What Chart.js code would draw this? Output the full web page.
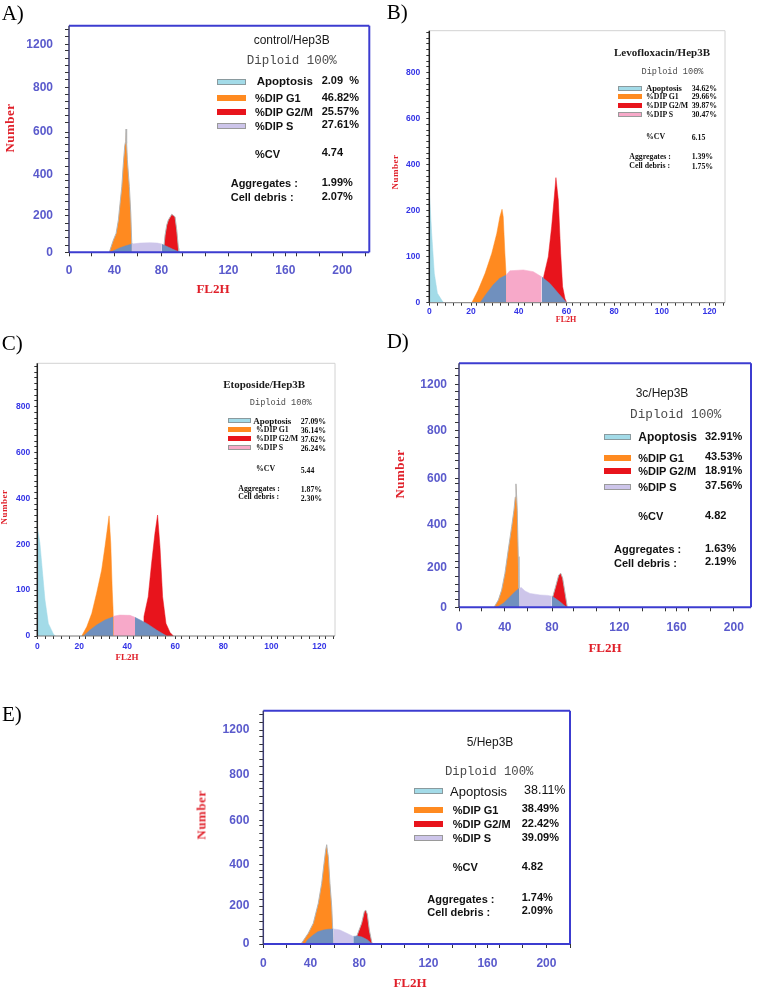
<!DOCTYPE html>
<html>
<head>
<meta charset="utf-8">
<script src="https://cdn.jsdelivr.net/npm/chart.js@4.4.1/dist/chart.umd.min.js"></script>
<style>
  body { margin: 0; background: #fff; }
  #page { position: relative; width: 769px; height: 992px; overflow: hidden; background: #fff; }
  canvas { position: absolute; }
  .t { position: absolute; white-space: pre; }
  .sw { position: absolute; box-sizing: border-box; }
</style>
</head>
<body>
<div id="page"></div>
<script>
// ---- axis ticks (positions in plotted units, labels as printed on the figure) ----
const WIDE_X_TICKS = [8, 40, 73, 120, 160, 200];
const WIDE_X_LABELS = ["0", "40", "80", "120", "160", "200"];
const WIDE_Y_TICKS = [0, 179, 377, 585, 800, 1012];
const WIDE_Y_LABELS = ["0", "200", "400", "600", "800", "1200"];
const NARROW_X_TICKS = [2.5, 20, 40, 60, 80, 100, 120];
const NARROW_X_LABELS = ["0", "20", "40", "60", "80", "100", "120"];
const NARROW_Y_TICKS = [0, 160, 320, 480, 640, 800];
const NARROW_Y_LABELS = ["0", "100", "200", "400", "600", "800"];

// ---- legend text ----
const PHASES = ["Apoptosis", "%DIP G1", "%DIP G2/M", "%DIP S"];
const EXTRA_NAMES = ["%CV", "Aggregates :", "Cell debris :"];

const A_TITLE = "control/Hep3B";
const A_PCT = ["2.09  %", "46.82%", "25.57%", "27.61%"];
const A_EXTRA = ["4.74", "1.99%", "2.07%"];
const B_TITLE = "Levofloxacin/Hep3B";
const B_PCT = ["34.62%", "29.66%", "39.87%", "30.47%"];
const B_EXTRA = ["6.15", "1.39%", "1.75%"];
const C_TITLE = "Etoposide/Hep3B";
const C_PCT = ["27.09%", "36.14%", "37.62%", "26.24%"];
const C_EXTRA = ["5.44", "1.87%", "2.30%"];
const D_TITLE = "3c/Hep3B";
const D_PCT = ["32.91%", "43.53%", "18.91%", "37.56%"];
const D_EXTRA = ["4.82", "1.63%", "2.19%"];
const E_TITLE = "5/Hep3B";
const E_PCT = ["38.11%", "38.49%", "22.42%", "39.09%"];
const E_EXTRA = ["4.82", "1.74%", "2.09%"];

// ---- histogram outlines [FL2H, count] ----
const A_G1 = [[36.3,0],[39.2,60],[41.1,92],[42.7,157],[43.9,239],[45.1,319],[46.2,433],[47.2,520],[47.8,540],[48.1,600],[48.5,530],[49.0,450],[50.4,320],[51.4,190],[52.1,45],[52.1,0]];
const A_S_LEFT = [[36.8,0],[40,10],[43.9,22],[48,32],[52.1,40]];
const A_S_MID = [[52.1,40],[58,45],[65,47],[70,45],[73.2,40]];
const A_S_RIGHT = [[73.2,40],[75,34],[78,25],[81,15],[84,6],[86.1,0]];
const A_G2 = [[74.3,0],[75.5,84],[76.7,133],[77.8,157],[80.2,185],[82.5,173],[83.7,109],[84.9,19],[85.1,0]];

const B_APOP = [[2.5,392],[3.5,241],[4.6,102],[5.9,33],[7.7,9],[8.5,0]];
const B_G1 = [[20.3,0],[23.0,44],[25.9,102],[28.7,172],[30.8,241],[32.1,299],[33.0,325],[33.5,299],[34.2,172],[34.7,96],[34.7,0]];
const B_S_LEFT = [[23.8,0],[26.6,33],[29.3,62],[32.1,85],[34.7,96]];
const B_S_MID = [[34.7,96],[36.3,111],[41.9,114],[46.1,108],[49.6,90]];
const B_S_RIGHT = [[49.6,90],[53.1,67],[56.6,33],[60.1,0]];
const B_G2 = [[50.3,0],[50.3,85],[52.4,160],[53.8,264],[54.8,357],[55.6,435],[56.6,357],[57.6,172],[58.4,56],[59.4,15],[60.1,0]];

const C_APOP = [[2.5,381],[3.6,323],[4.7,219],[5.7,126],[7.1,44],[9.2,7],[10.0,0]];
const C_G1 = [[21.0,0],[23.1,32],[25.2,79],[27.2,149],[29.3,230],[30.7,312],[32.4,419],[33.1,323],[33.7,161],[34.2,67],[34.2,0]];
const C_S_LEFT = [[21.7,0],[24.5,21],[27.2,38],[30.7,56],[34.2,67]];
const C_S_MID = [[34.2,69],[36.9,73],[41.1,72],[43.2,65]];
const C_S_RIGHT = [[43.2,65],[48.1,44],[52.2,21],[56.4,0]];
const C_G2 = [[46.9,0],[46.9,67],[48.7,137],[50.1,254],[51.5,358],[52.6,422],[53.6,312],[54.7,137],[56.1,44],[57.8,12],[59.2,0]];

const D_G1 = [[32.5,0],[35.5,33],[37.8,78],[40.1,154],[42.4,260],[44.8,366],[46.4,441],[47.3,500],[47.8,560],[48.3,500],[48.7,441],[49.4,230],[49.9,86],[50.1,0]];
const D_S_LEFT = [[34.3,0],[39,18],[43.6,48],[47.1,71],[50.1,86]];
const D_S_MID = [[50.1,86],[51.5,90],[54.1,74],[57.6,63],[64.6,56],[70,54],[72.8,50]];
const D_S_RIGHT = [[72.8,50],[75,42],[78.6,25],[81,12],[83.2,0]];
const D_G2 = [[73.0,0],[73.5,48],[75.8,101],[77.7,147],[79.1,154],[80.4,132],[82.1,64],[83.7,0]];

const E_G1 = [[33.6,0],[38.5,51],[41.9,98],[45.3,193],[47.6,287],[49.2,382],[50.3,445],[51.0,470],[51.5,440],[52.1,413],[53.2,287],[54.4,177],[55.1,66],[55.5,0]];
const E_S_LEFT = [[36.3,0],[38,20],[41.9,43],[45,58],[48.7,66],[52,70],[55.5,71]];
const E_S_MID = [[55.5,71],[58,69],[60,66],[64.6,51],[69,36]];
const E_S_RIGHT = [[69,36],[72,38],[75,33],[78,22],[80,12],[81.5,0]];
const E_G2 = [[70.5,0],[71.3,35],[74.7,98],[76.5,153],[77.4,161],[78.5,142],[79.9,66],[81.5,11],[82,0]];

// ---- colours ----
const ORANGE = "#ff8a20", RED = "#e8141c", BLUE = "#7090be", LAVENDER = "#cdc5ea", PINK = "#f7a9c9", CYAN = "#a3dbe8";
const OUTLINE = "#b4b4b4";

const page = document.getElementById("page");

// box around the plot area, drawn after the fills
Chart.register({
  id: "frame",
  afterDatasetsDraw(chart, args, o) {
    const { ctx, chartArea: a } = chart;
    ctx.save();
    const side = (c, w, x1, y1, x2, y2) => {
      if (!c) return;
      ctx.strokeStyle = c; ctx.lineWidth = w;
      ctx.beginPath(); ctx.moveTo(x1, y1); ctx.lineTo(x2, y2); ctx.stroke();
    };
    side(o.top, o.width, a.left, a.top, a.right, a.top);
    side(o.right, o.width, a.right, a.top, a.right, a.bottom);
    side(o.bottom, o.bottomWidth, a.left, a.bottom, a.right, a.bottom);
    side(o.left, o.leftWidth, a.left, a.top, a.left, a.bottom);
    ctx.restore();
  }
});

const WIDE = {
  xTicks: WIDE_X_TICKS, xLabels: WIDE_X_LABELS, xMinor: 16,
  yTicks: WIDE_Y_TICKS, yLabels: WIDE_Y_LABELS, yMinor: 35,
  tickFont: { family: "'Liberation Sans', Arial, sans-serif", size: 12, weight: "bold" },
  tickColor: "#5a5acc", tl: 4, sColor: LAVENDER, outline: OUTLINE,
  frame: { top: "#3c3cd0", right: "#3c3cd0", bottom: "#3c3cd0", left: "#3a3a70", width: 2, bottomWidth: 2, leftWidth: 1.5 }
};
const NARROW = {
  xTicks: NARROW_X_TICKS, xLabels: NARROW_X_LABELS, xMinor: 10 / 3,
  yTicks: NARROW_Y_TICKS, yLabels: NARROW_Y_LABELS, yMinor: 20,
  tickFont: { family: "'Liberation Sans', Arial, sans-serif", size: 8.5, weight: "bold" },
  tickColor: "#3434e6", tl: 3, sColor: PINK, outline: null,
  frame: { top: "#d2d2d2", right: "#d2d2d2", bottom: "#777", left: "#222", width: 1, bottomWidth: 1, leftWidth: 1.5 }
};

function range(a, b, s) {
  const out = [];
  for (let v = a; v <= b + 1e-9; v += s) out.push(+v.toFixed(3));
  return out;
}

function tickSet(majors, labels, step, min, max) {
  const map = new Map(majors.map((v, i) => [v, labels[i]]));
  const minors = range(min, max, step).filter(v => !majors.some(m => Math.abs(m - v) < step * 0.35));
  return { all: [...majors, ...minors].sort((a, b) => a - b), map };
}

function area(points, color, order, outline) {
  return {
    data: points.map(([x, y]) => ({ x, y })),
    backgroundColor: color,
    borderColor: outline || color,
    borderWidth: outline ? 1 : 0.5,
    fill: "origin", order, pointRadius: 0, tension: 0
  };
}

function buildPanel(P) {
  const [cl, ct, cw, ch] = P.canvas;
  const [bl, bt, br, bb] = P.box;
  const S = P.style;
  const cv = document.createElement("canvas");
  cv.width = cw; cv.height = ch;
  cv.style.left = cl + "px"; cv.style.top = ct + "px";
  cv.style.width = cw + "px"; cv.style.height = ch + "px";
  page.appendChild(cv);

  const xt = tickSet(S.xTicks, S.xLabels, S.xMinor, P.x[0], P.x[1]);
  const yt = tickSet(S.yTicks, S.yLabels, S.yMinor, P.y[0], P.y[1]);

  const sets = [
    area(P.sMid, S.sColor, 0),
    area(P.sLeft, BLUE, 1),
    area(P.sRight, BLUE, 1),
    area(P.g2, RED, 2, S.outline),
    area(P.g1, ORANGE, 3, S.outline)
  ];
  if (P.apop) sets.push(area(P.apop, CYAN, 4));

  new Chart(cv, {
    type: "line",
    data: { datasets: sets },
    options: {
      responsive: false, animation: false, devicePixelRatio: 1, events: [],
      layout: { padding: { left: 0, top: bt - ct, right: cl + cw - br, bottom: 0 } },
      plugins: { legend: { display: false }, tooltip: { enabled: false }, frame: S.frame },
      scales: {
        x: {
          type: "linear", min: P.x[0], max: P.x[1],
          afterBuildTicks: s => { s.ticks = xt.all.map(v => ({ value: v })); },
          afterFit: s => { s.height = ct + ch - bb; },
          border: { display: false },
          grid: { drawOnChartArea: false, drawTicks: true, tickLength: S.tl, color: "#333", lineWidth: 1 },
          ticks: { autoSkip: false, maxRotation: 0, padding: P.xPad, font: S.tickFont, color: S.tickColor,
                   callback: v => xt.map.has(v) ? xt.map.get(v) : "" }
        },
        y: {
          type: "linear", min: P.y[0], max: P.y[1],
          afterBuildTicks: s => { s.ticks = yt.all.map(v => ({ value: v })); },
          afterFit: s => { s.width = bl - cl; },
          border: { display: false },
          grid: { drawOnChartArea: false, drawTicks: true, tickLength: S.tl, color: "#333", lineWidth: 1 },
          ticks: { autoSkip: false, padding: P.yPad, font: S.tickFont, color: S.tickColor,
                   callback: v => yt.map.has(v) ? yt.map.get(v) : "" }
        }
      }
    }
  });
}

function txt(str, x, y, font, color, mode) {
  const d = document.createElement("div");
  d.className = "t";
  d.textContent = str;
  d.style.font = font;
  d.style.lineHeight = "1";
  d.style.color = color || "#111";
  d.style.left = x + "px";
  d.style.top = y + "px";
  if (mode === "c") d.style.transform = "translate(-50%,-50%)";
  else if (mode === "v") d.style.transform = "translate(-50%,-50%) rotate(-90deg)";
  else d.style.transform = "translate(0,-50%)";
  page.appendChild(d);
  return d;
}

function swatch(x, y, w, h, color, border) {
  const d = document.createElement("div");
  d.className = "sw";
  d.style.left = x + "px"; d.style.top = (y - h / 2) + "px";
  d.style.width = w + "px"; d.style.height = h + "px";
  d.style.background = color;
  if (border) d.style.border = "1px solid " + border;
  page.appendChild(d);
}

function buildLegend(L, title, pct, extra, sColor) {
  txt(title, L.title[0], L.title[1], L.titleFont, "#1a1a1a", "c");
  txt("Diploid 100%", L.dip[0], L.dip[1], L.dipSize + "px 'Liberation Mono', 'Courier New', monospace", "#4a4a4a", "c");
  const swCols = [CYAN, ORANGE, RED, sColor];
  const swBorders = ["#8a9a9e", null, null, "#9a9a9a"];
  PHASES.forEach((name, i) => {
    const y = L.rows[i];
    swatch(L.swX, y, L.swW, L.swH, swCols[i], swBorders[i]);
    txt(name, i === 0 ? L.apX : L.labX, y, i === 0 ? L.apFont : L.font, "#111");
    txt(pct[i], i === 0 ? (L.apValX || L.valX) : L.valX, y + L.valDy, i === 0 ? (L.apValFont || L.font) : L.font, "#111");
  });
  txt(EXTRA_NAMES[0], L.labX, L.cv, L.font, "#111");
  txt(extra[0], L.valX, L.cv + L.valDy, L.font, "#111");
  txt(EXTRA_NAMES[1], L.aggX, L.agg[0], L.font, "#111");
  txt(extra[1], L.valX, L.agg[0] + L.valDy, L.font, "#111");
  txt(EXTRA_NAMES[2], L.aggX, L.agg[1], L.font, "#111");
  txt(extra[2], L.valX, L.agg[1] + L.valDy, L.font, "#111");
}

const SANS_B = px => "bold " + px + "px 'Liberation Sans', Arial, sans-serif";
const SANS = px => px + "px 'Liberation Sans', Arial, sans-serif";
const SERIF_B = px => "bold " + px + "px 'Liberation Serif', 'Times New Roman', serif";

// ---- panels ----
buildPanel({ canvas: [0, 0, 378, 300], box: [69, 25.7, 369.3, 252.3], x: [8, 219], y: [0, 1103],
  style: WIDE, xPad: 7.5, yPad: 12, g1: A_G1, g2: A_G2, sLeft: A_S_LEFT, sMid: A_S_MID, sRight: A_S_RIGHT });
buildPanel({ canvas: [380, 14, 350, 310], box: [429.3, 30.7, 725, 302.7], x: [2.5, 126.5], y: [0, 946],
  style: NARROW, xPad: 1, yPad: 6, apop: B_APOP, g1: B_G1, g2: B_G2, sLeft: B_S_LEFT, sMid: B_S_MID, sRight: B_S_RIGHT });
buildPanel({ canvas: [0, 350, 340, 306], box: [37.3, 363.3, 335, 636], x: [2.5, 126.5], y: [0, 951],
  style: NARROW, xPad: 2.3, yPad: 4, apop: C_APOP, g1: C_G1, g2: C_G2, sLeft: C_S_LEFT, sMid: C_S_MID, sRight: C_S_RIGHT });
buildPanel({ canvas: [380, 345, 380, 300], box: [459, 363.3, 751, 607.3], x: [8, 212], y: [0, 1107],
  style: WIDE, xPad: 9, yPad: 8, g1: D_G1, g2: D_G2, sLeft: D_S_LEFT, sMid: D_S_MID, sRight: D_S_RIGHT });
buildPanel({ canvas: [180, 690, 400, 292], box: [263.3, 710.7, 570, 944], x: [8, 216], y: [0, 1104],
  style: WIDE, xPad: 8, yPad: 10, g1: E_G1, g2: E_G2, sLeft: E_S_LEFT, sMid: E_S_MID, sRight: E_S_RIGHT });

// ---- legends ----
buildLegend({ title: [291.7, 40], titleFont: SANS(12), dip: [291.7, 60.7], dipSize: 12.5,
  swX: 217, swW: 29, swH: 6, rows: [81.5, 98, 112, 125.5], labX: 255, apX: 256.7, valX: 321.7, valDy: -1.2,
  cv: 153.5, aggX: 230.7, agg: [183, 197], font: SANS_B(11), apFont: SANS_B(11.5) }, A_TITLE, A_PCT, A_EXTRA, LAVENDER);
buildLegend({ title: [662, 51.7], titleFont: SERIF_B(11), dip: [672.5, 71.7], dipSize: 8.6,
  swX: 618, swW: 23.7, swH: 5, rows: [88, 96.8, 105.6, 114.6], labX: 646, apX: 646, valX: 691.7, valDy: 0.5,
  cv: 137, aggX: 629.3, agg: [156.7, 166.3], font: SERIF_B(7.8), apFont: SERIF_B(8.5) }, B_TITLE, B_PCT, B_EXTRA, PINK);
buildLegend({ title: [264.2, 384], titleFont: SERIF_B(11), dip: [280.8, 402.7], dipSize: 8.6,
  swX: 228.3, swW: 22.4, swH: 5, rows: [420.5, 429.8, 438.5, 447.5], labX: 256, apX: 253.3, valX: 300.7, valDy: 1.5,
  cv: 469, aggX: 238.3, agg: [488.8, 497.2], font: SERIF_B(7.8), apFont: SERIF_B(9) }, C_TITLE, C_PCT, C_EXTRA, PINK);
buildLegend({ title: [662, 392.7], titleFont: SANS(12), dip: [675.8, 415], dipSize: 12.7,
  swX: 604, swW: 26.7, swH: 6, rows: [437, 457.5, 471, 486.5], labX: 638.3, apX: 638.3, valX: 705, valDy: -1.5,
  cv: 516, aggX: 614, agg: [549, 562.5], font: SANS_B(11), apFont: SANS_B(12) }, D_TITLE, D_PCT, D_EXTRA, LAVENDER);
buildLegend({ title: [490, 741.7], titleFont: SANS(12), dip: [489.2, 771.7], dipSize: 12.3,
  swX: 414, swW: 28.7, swH: 6, rows: [791, 809.5, 824, 838], labX: 452.7, apX: 450, valX: 521.7, apValX: 524, valDy: -1.2,
  cv: 867, aggX: 427.3, agg: [898.5, 911.5], font: SANS_B(11), apFont: SANS(13), apValFont: SANS(12.5) }, E_TITLE, E_PCT, E_EXTRA, LAVENDER);

// ---- axis titles ----
const AXIS_RED = "#e0202a";
[[9, 128, 13], [395, 172.3, 9], [4, 506.7, 9], [399, 474, 13], [200.7, 815, 13]].forEach(([x, y, s]) => {
  const d = txt("Number", x, y, SERIF_B(s), AXIS_RED, "v");
  d.style.letterSpacing = "0.5px";
});
[[213, 288, 13], [566, 320, 8], [127, 657, 9], [605, 646.7, 13], [410, 981.7, 13]].forEach(([x, y, s]) => {
  txt("FL2H", x, y, SERIF_B(s), AXIS_RED, "c");
});

// ---- panel letters ----
[["A)", 1.7, 12.5], ["B)", 386.7, 11.7], ["C)", 1.7, 343.3], ["D)", 386.7, 341], ["E)", 2, 714]].forEach(([s, x, y]) => {
  txt(s, x, y, "21px 'Liberation Serif', 'Times New Roman', serif", "#000");
});
</script>
</body>
</html>
